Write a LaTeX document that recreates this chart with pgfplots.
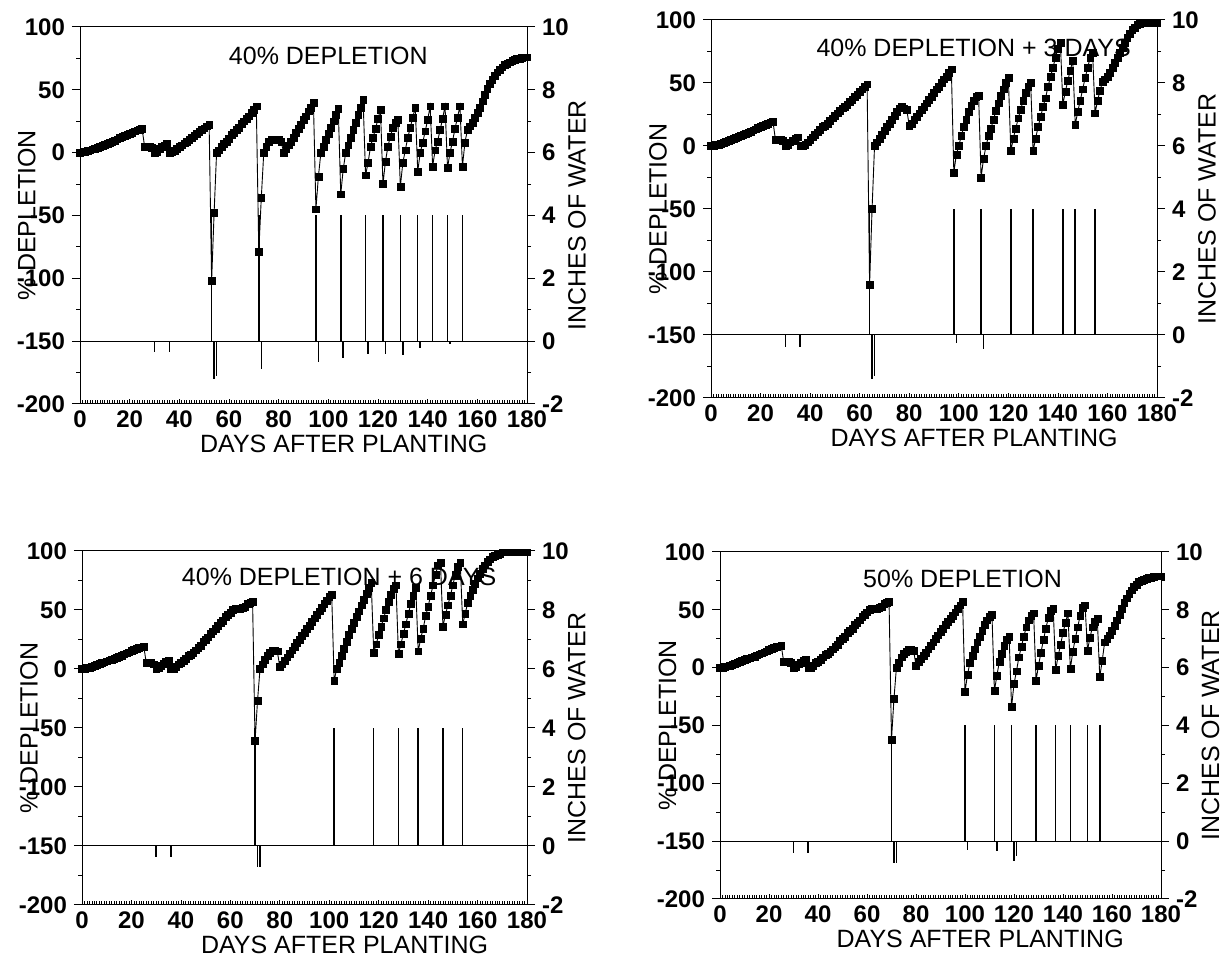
\documentclass[border=0pt]{standalone}
\usepackage{fontspec}
\setmainfont{Liberation Sans}
\usepackage{pgfplots}
\pgfplotsset{compat=1.18}

\newcommand\tickfont{\fontsize{12}{12}\selectfont\bfseries}
\newcommand\labfont{\fontsize{12.5}{13}\selectfont}

\pgfplotsset{
  /pgf/number format/assume math mode=true,
  leftax/.style={scale only axis, anchor=south west,
    xmin=0, xmax=180, ymin=-200, ymax=100,
    ytick={-200,-150,...,100}, minor y tick num=1, ytick pos=left, xtick=\empty,
    tick align=outside, major tick length=4pt, minor tick length=2pt,
    axis line style={line width=0.5pt}, tick style={black, line width=0.5pt},
    y tick label style={font=\tickfont},
    ylabel={\% DEPLETION},
    ylabel style={font=\labfont, at={(axis description cs:-0.119,0.5)}, anchor=center}},
  rightax/.style={scale only axis, anchor=south west,
    xmin=0, xmax=180, ymin=-2, ymax=10,
    ytick={-2,0,...,10}, minor y tick num=1,
    axis y line*=right, axis x line=none,
    tick align=outside, major tick length=4pt, minor tick length=2pt,
    axis line style={line width=0.5pt}, tick style={black, line width=0.5pt},
    y tick label style={font=\tickfont},
    ylabel={INCHES OF WATER},
    ylabel style={font=\labfont, inner sep=0pt, at={(axis description cs:1.112,0.5)}, anchor=center}},
  ticksax/.style={scale only axis, anchor=south west,
    xmin=0, xmax=180, ymin=0, ymax=1, hide y axis, axis x line*=bottom,
    xtick={0,20,...,180}, minor x tick num=19,
    tick align=inside, major tick length=2.6pt, minor tick length=2.2pt,
    axis line style={line width=0.5pt}, tick style={black, line width=0.35pt},
    x tick label style={font=\tickfont},
    xlabel={DAYS AFTER PLANTING},
    xlabel style={font=\labfont, at={(axis description cs:0.59,0)}, anchor=base, yshift=-24.5pt}},
  dep/.style={black, line width=0.45pt, mark=square*, mark size=1.7pt, mark options={line width=0.2pt}},
  water/.style={black, line width=0.5pt, no marks},
  comb/.style={black, line width=0.75pt, no marks, ycomb},
}

\begin{document}
\begin{tikzpicture}
\useasboundingbox (0,0) rectangle (612.5pt,480.5pt);

% ---------- panel 1: 40% depletion ----------
\begin{axis}[leftax, at={(40pt,278.5pt)}, width=223.5pt, height=188.5pt]
\node[font=\labfont] at (axis cs:100,77) {40\% DEPLETION};
\addplot[dep] coordinates {
(0,0) (1,0.3) (2,0.8) (3,1.3) (4,2) (5,2.7) (6,3.4) (7,4.2) (8,5) (9,5.8)
(10,6.6) (11,7.4) (12,8.2) (13,9) (14,9.8) (15,10.7) (16,11.6) (17,12.5) (18,13.4) (19,14.3)
(20,15.2) (21,16.1) (22,17) (23,17.8) (24,18.5) (25,19) (26,5) (27,5) (28,5) (29,4)
(30,0) (31,1) (32,3) (33,4.5) (34,6) (35,7) (36,0) (37,0.5) (38,1.5) (39,3)
(40,4.5) (41,6) (42,7.5) (43,9) (44,10.5) (45,12) (46,13.5) (47,15) (48,16.5) (49,18)
(50,19.5) (51,21) (52,22.5) (53,-102) (54,-48) (55,0) (56,2) (57,5) (58,7) (59,9)
(60,11) (61,14) (62,16) (63,18) (64,20) (65,23) (66,25) (67,27) (68,29) (69,32)
(70,34) (71,37) (72,-79) (73,-36) (74,0) (75,5) (76,9) (77,10) (78,10) (79,10)
(80,10) (81,9) (82,0) (83,3) (84,6) (85,9) (86,12) (87,16) (88,19) (89,22)
(90,26) (91,29) (92,33) (93,36) (94,40) (95,-45) (96,-19) (97,0) (98,5) (99,10)
(100,15) (101,20) (102,25) (103,30) (104,35) (105,-33) (106,-13) (107,0) (108,6) (109,12)
(110,18) (111,24) (112,30) (113,36) (114,42) (115,-18) (116,-8) (117,5) (118,12) (119,19)
(120,27) (121,34) (122,-25) (123,-7) (124,5) (125,13) (126,20) (127,24) (128,26) (129,-27)
(130,-8) (131,2) (132,12) (133,20) (134,28) (135,36) (136,-15) (137,0) (138,8) (139,17)
(140,26) (141,37) (142,-11) (143,2) (144,9) (145,18) (146,27) (147,37) (148,-12) (149,0)
(150,9) (151,19) (152,28) (153,37) (154,-11) (155,8) (156,18) (157,21) (158,24) (159,28)
(160,32) (161,36) (162,41) (163,46) (164,51) (165,55) (166,58) (167,61) (168,64) (169,66)
(170,68) (171,70) (172,71) (173,72) (174,73) (175,74) (176,75) (177,75) (178,75.5) (179,76)
(180,76)};
\end{axis}
\begin{axis}[rightax, at={(40pt,278.5pt)}, width=223.5pt, height=188.5pt]
\addplot[water] coordinates {(0,0) (180,0)};
\addplot[comb] coordinates {
(30,-0.36) (36,-0.36) (53,4) (54,-1.2) (55,-1.1) (72,4) (73,-0.9) (95,4) (96,-0.65)
(105,4) (106,-0.55) (115,4) (116,-0.4) (122,4) (123,-0.4) (129,4) (130,-0.45)
(136,4) (137,-0.22) (142,4) (148,4) (149,-0.1) (154,4)};
\end{axis}
\begin{axis}[ticksax, at={(40pt,278.5pt)}, width=223.5pt, height=188.5pt]
\end{axis}

% ---------- panel 2: 40% depletion + 3 days ----------
\begin{axis}[leftax, at={(355.5pt,281.5pt)}, width=223pt, height=189pt]
\node[font=\labfont] at (axis cs:106,78) {40\% DEPLETION + 3 DAYS};
\addplot[dep] coordinates {
(0,0) (1,0.3) (2,0.8) (3,1.3) (4,2) (5,2.7) (6,3.4) (7,4.2) (8,5) (9,5.8)
(10,6.6) (11,7.4) (12,8.2) (13,9) (14,9.8) (15,10.7) (16,11.6) (17,12.5) (18,13.4) (19,14.3)
(20,15.2) (21,16.1) (22,17) (23,17.8) (24,18.8) (25,19.5) (26,5) (27,5) (28,5) (29,4)
(30,0) (31,1) (32,3) (33,4.5) (34,6) (35,7) (36,0) (37,0) (38,1) (39,3)
(40,5) (41,7) (42,9) (43,11) (44,13) (45,15) (46,16) (47,18) (48,20) (49,22)
(50,24) (51,26) (52,28) (53,30) (54,31) (55,33) (56,35) (57,37) (58,39) (59,41)
(60,43) (61,45) (62,47) (63,49) (64,-110) (65,-50) (66,0) (67,3) (68,6) (69,9)
(70,12) (71,15) (72,18) (73,21) (74,24) (75,27) (76,30) (77,31) (78,30) (79,29)
(80,16) (81,18) (82,21) (83,23) (84,26) (85,29) (86,31) (87,34) (88,37) (89,39)
(90,42) (91,45) (92,47) (93,50) (94,53) (95,55) (96,58) (97,61) (98,-21) (99,-7)
(100,0) (101,8) (102,15) (103,21) (104,27) (105,32) (106,36) (107,39) (108,40) (109,-25)
(110,-10) (111,0) (112,8) (113,14) (114,21) (115,28) (116,34) (117,40) (118,45) (119,50)
(120,54) (121,-4) (122,6) (123,14) (124,22) (125,29) (126,36) (127,42) (128,47) (129,50)
(130,-4) (131,6) (132,15) (133,23) (134,31) (135,38) (136,47) (137,55) (138,62) (139,70)
(140,77) (141,82) (142,33) (143,43) (144,52) (145,60) (146,68) (147,17) (148,27) (149,36)
(150,45) (151,54) (152,62) (153,70) (154,74) (155,26) (156,36) (157,44) (158,51) (159,53)
(160,55) (161,58) (162,62) (163,66) (164,70) (165,74) (166,78) (167,82) (168,86) (169,89)
(170,92) (171,94) (172,96) (173,97) (174,97.5) (175,98) (176,98) (177,98) (178,98) (179,98)
(180,98)};
\end{axis}
\begin{axis}[rightax, at={(355.5pt,281.5pt)}, width=223pt, height=189pt]
\addplot[water] coordinates {(0,0) (180,0)};
\addplot[comb] coordinates {
(30,-0.38) (36,-0.38) (64,4) (65,-1.4) (66,-1.3) (98,4) (99,-0.25) (109,4) (110,-0.45)
(121,4) (130,4) (142,4) (147,4) (155,4)};
\end{axis}
\begin{axis}[ticksax, at={(355.5pt,281.5pt)}, width=223pt, height=189pt]
\end{axis}

% ---------- panel 3: 40% depletion + 6 days ----------
\begin{axis}[leftax, at={(41pt,28pt)}, width=222.5pt, height=177pt]
\node[font=\labfont] at (axis cs:104,78) {40\% DEPLETION + 6 DAYS};
\addplot[dep] coordinates {
(0,0) (1,0.3) (2,0.8) (3,1.3) (4,2) (5,2.7) (6,3.4) (7,4.2) (8,5) (9,5.8)
(10,6.6) (11,7.4) (12,8.2) (13,9) (14,9.8) (15,10.7) (16,11.6) (17,12.5) (18,13.4) (19,14.3)
(20,15.2) (21,16.1) (22,17) (23,17.8) (24,18.5) (25,19) (26,5) (27,5) (28,5) (29,4)
(30,0) (31,1) (32,3) (33,4.5) (34,6) (35,7) (36,0) (37,0) (38,2) (39,4)
(40,5) (41,7) (42,9) (43,11) (44,12) (45,14) (46,16) (47,18) (48,20) (49,23)
(50,25) (51,27) (52,30) (53,32) (54,34) (55,37) (56,39) (57,41) (58,44) (59,46)
(60,48) (61,50) (62,51) (63,51) (64,51) (65,52) (66,53) (67,55) (68,56) (69,57)
(70,-61) (71,-27) (72,0) (73,4) (74,8) (75,11) (76,14) (77,16) (78,16) (79,15)
(80,2) (81,4) (82,7) (83,10) (84,13) (85,16) (86,19) (87,22) (88,25) (89,28)
(90,31) (91,34) (92,37) (93,40) (94,43) (95,46) (96,49) (97,52) (98,55) (99,58)
(100,61) (101,63) (102,-10) (103,0) (104,5) (105,11) (106,17) (107,23) (108,29) (109,34)
(110,39) (111,44) (112,49) (113,54) (114,59) (115,64) (116,69) (117,73) (118,14) (119,21)
(120,29) (121,36) (122,43) (123,50) (124,57) (125,63) (126,68) (127,71) (128,13) (129,21)
(130,30) (131,38) (132,47) (133,55) (134,62) (135,69) (136,15) (137,26) (138,34) (139,45)
(140,53) (141,62) (142,71) (143,80) (144,88) (145,90) (146,36) (147,46) (148,54) (149,62)
(150,71) (151,80) (152,87) (153,90) (154,38) (155,47) (156,56) (157,62) (158,67) (159,72)
(160,77) (161,81) (162,85) (163,88) (164,91) (165,93) (166,95) (167,96) (168,97) (169,98)
(170,99) (171,99) (172,99) (173,99) (174,99) (175,99) (176,99) (177,99) (178,99) (179,99)
(180,99)};
\end{axis}
\begin{axis}[rightax, at={(41pt,28pt)}, width=222.5pt, height=177pt]
\addplot[water] coordinates {(0,0) (180,0)};
\addplot[comb] coordinates {
(30,-0.36) (36,-0.36) (70,4) (71,-0.7) (72,-0.7) (102,4) (118,4) (128,4) (136,4)
(146,4) (154,4)};
\end{axis}
\begin{axis}[ticksax, at={(41pt,28pt)}, width=222.5pt, height=177pt]
\end{axis}

% ---------- panel 4: 50% depletion ----------
\begin{axis}[leftax, at={(360pt,31pt)}, width=220.5pt, height=173.5pt]
\node[font=\labfont] at (axis cs:99,77) {50\% DEPLETION};
\addplot[dep] coordinates {
(0,0) (1,0.3) (2,0.8) (3,1.3) (4,2) (5,2.7) (6,3.4) (7,4.2) (8,5) (9,5.8)
(10,6.6) (11,7.4) (12,8.2) (13,9) (14,9.8) (15,10.7) (16,11.6) (17,12.5) (18,13.4) (19,14.3)
(20,15.2) (21,16.1) (22,17) (23,17.8) (24,18.5) (25,19) (26,5) (27,5) (28,5) (29,4)
(30,0) (31,1) (32,3) (33,4.5) (34,6) (35,7) (36,0) (37,0) (38,2) (39,4)
(40,5) (41,7) (42,9) (43,11) (44,12) (45,14) (46,16) (47,18) (48,20) (49,23)
(50,25) (51,27) (52,30) (53,32) (54,34) (55,37) (56,39) (57,41) (58,44) (59,46)
(60,48) (61,50) (62,51) (63,51) (64,51) (65,52) (66,53) (67,55) (68,56) (69,57)
(70,-62) (71,-27) (72,0) (73,4) (74,9) (75,12) (76,14) (77,16) (78,16) (79,15)
(80,2) (81,5) (82,8) (83,10) (84,13) (85,16) (86,19) (87,22) (88,25) (89,28)
(90,31) (91,34) (92,37) (93,40) (94,42) (95,45) (96,48) (97,51) (98,54) (99,57)
(100,-21) (101,-6) (102,4) (103,10) (104,16) (105,22) (106,27) (107,32) (108,37) (109,41)
(110,44) (111,46) (112,-20) (113,-7) (114,5) (115,12) (116,19) (117,24) (118,27) (119,-34)
(120,-14) (121,-3) (122,9) (123,18) (124,27) (125,35) (126,41) (127,45) (128,47) (129,-11)
(130,2) (131,13) (132,24) (133,34) (134,43) (135,49) (136,51) (137,-2) (138,10) (139,20)
(140,30) (141,39) (142,47) (143,-1) (144,14) (145,25) (146,35) (147,45) (148,52) (149,54)
(150,15) (151,26) (152,35) (153,40) (154,42) (155,-8) (156,6) (157,22) (158,25) (159,28)
(160,32) (161,36) (162,41) (163,46) (164,51) (165,56) (166,60) (167,64) (168,67) (169,70)
(170,72) (171,74) (172,75) (173,76) (174,77) (175,78) (176,78) (177,78.5) (178,79) (179,79)
(180,79)};
\end{axis}
\begin{axis}[rightax, at={(360pt,31pt)}, width=220.5pt, height=173.5pt]
\addplot[water] coordinates {(0,0) (180,0)};
\addplot[comb] coordinates {
(30,-0.42) (36,-0.42) (70,4) (71,-0.76) (72,-0.76) (100,4) (101,-0.3) (112,4) (113,-0.35)
(119,4) (120,-0.7) (121,-0.5) (129,4) (137,4) (143,4) (150,4) (155,4)};
\end{axis}
\begin{axis}[ticksax, at={(360pt,31pt)}, width=220.5pt, height=173.5pt]
\end{axis}

\end{tikzpicture}
\end{document}
